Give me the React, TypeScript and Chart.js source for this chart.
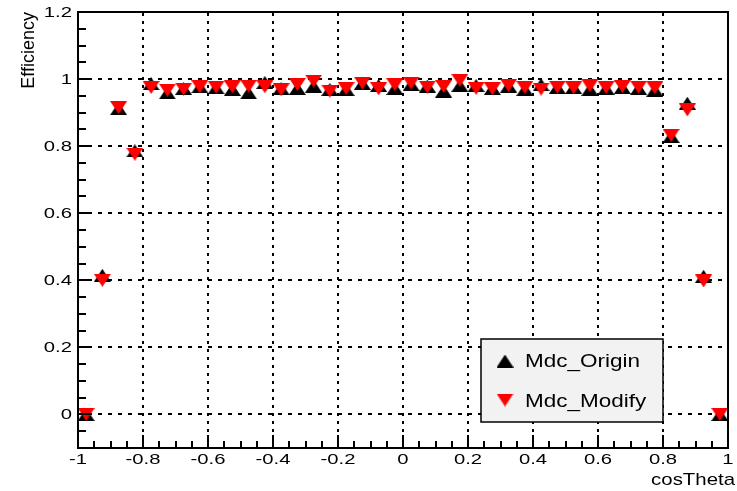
import { useEffect, useRef } from "react";
import { Chart, registerables } from "chart.js";

Chart.register(...registerables);

const W = 737;
const H = 491;

// Bin centres in cosTheta (40 bins of width 0.05)
const binCenters = [
  -0.975, -0.925, -0.875, -0.825, -0.775, -0.725, -0.675, -0.625, -0.575, -0.525,
  -0.475, -0.425, -0.375, -0.325, -0.275, -0.225, -0.175, -0.125, -0.075, -0.025,
  0.025, 0.075, 0.125, 0.175, 0.225, 0.275, 0.325, 0.375, 0.425, 0.475,
  0.525, 0.575, 0.625, 0.675, 0.725, 0.775, 0.825, 0.875, 0.925, 0.975,
];

const originEff = [
  0.0, 0.415, 0.912, 0.786, 0.986, 0.959, 0.972, 0.977, 0.974, 0.969,
  0.959, 0.99, 0.972, 0.972, 0.979, 0.969, 0.969, 0.987, 0.981, 0.972,
  0.984, 0.979, 0.964, 0.981, 0.981, 0.972, 0.979, 0.969, 0.983, 0.975,
  0.975, 0.969, 0.972, 0.975, 0.972, 0.967, 0.829, 0.928, 0.412, 0.0,
];

const modifyEff = [
  0.0, 0.4, 0.915, 0.776, 0.975, 0.967, 0.97, 0.977, 0.976, 0.977,
  0.979, 0.977, 0.968, 0.984, 0.994, 0.964, 0.972, 0.988, 0.971, 0.983,
  0.988, 0.976, 0.978, 0.996, 0.972, 0.971, 0.981, 0.975, 0.97, 0.976,
  0.974, 0.98, 0.975, 0.978, 0.976, 0.974, 0.832, 0.908, 0.398, 0.0,
];

const xTickValues = [-1, -0.8, -0.6, -0.4, -0.2, 0, 0.2, 0.4, 0.6, 0.8, 1];
const xTickLabels = ["-1", "-0.8", "-0.6", "-0.4", "-0.2", "0", "0.2", "0.4", "0.6", "0.8", "1"];
const yTickValues = [0, 0.2, 0.4, 0.6, 0.8, 1, 1.2];
const yTickLabels = ["0", "0.2", "0.4", "0.6", "0.8", "1", "1.2"];

const seriesNames = ["Mdc_Origin", "Mdc_Modify"];
const seriesColors = ["#000000", "#ff0000"];

const X_MIN = -1;
const X_MAX = 1;
const Y_MIN = -0.1;
const Y_MAX = 1.2;
const MINOR = 0.05;

const FONT = '"Liberation Sans", Arial, Helvetica, sans-serif';

function makeTriangle(color: string, up: boolean): HTMLCanvasElement {
  const c = document.createElement("canvas");
  const w = 17;
  const h = 13;
  c.width = w;
  c.height = h;
  const g = c.getContext("2d")!;
  g.fillStyle = color;
  g.beginPath();
  if (up) {
    g.moveTo(0, h);
    g.lineTo(w, h);
    g.lineTo(w / 2, 0);
  } else {
    g.moveTo(0, 0);
    g.lineTo(w, 0);
    g.lineTo(w / 2, h);
  }
  g.closePath();
  g.fill();
  return c;
}

function wideText(
  ctx: CanvasRenderingContext2D,
  text: string,
  x: number,
  y: number,
  size: number,
  sx: number,
  align: "left" | "center" | "right"
) {
  ctx.save();
  ctx.font = `${size}px ${FONT}`;
  ctx.textBaseline = "alphabetic";
  ctx.textAlign = "left";
  const w = ctx.measureText(text).width * sx;
  const left = align === "center" ? x - w / 2 : align === "right" ? x - w : x;
  ctx.translate(left, y);
  ctx.scale(sx, 1);
  ctx.fillStyle = "#000";
  ctx.fillText(text, 0, 0);
  ctx.restore();
}

export default function App() {
  const ref = useRef<HTMLCanvasElement | null>(null);

  useEffect(() => {
    const canvas = ref.current;
    if (!canvas) return;

    const upMarker = makeTriangle(seriesColors[0], true);
    const downMarker = makeTriangle(seriesColors[1], false);

    const framePlugin = {
      id: "rootFrame",
      beforeDatasetsDraw(chart: any) {
        const { ctx, chartArea: a, scales } = chart;
        const xs = scales.x;
        const ys = scales.y;
        ctx.save();
        ctx.strokeStyle = "#000";
        ctx.lineWidth = 2;
        // dotted grid, vertical
        ctx.setLineDash([3, 5]);
        xTickValues.forEach((v) => {
          if (v <= X_MIN || v >= X_MAX) return;
          const px = Math.round(xs.getPixelForValue(v));
          ctx.beginPath();
          ctx.moveTo(px, a.bottom);
          ctx.lineTo(px, a.top);
          ctx.stroke();
        });
        // dotted grid, horizontal
        ctx.setLineDash([4, 6]);
        yTickValues.forEach((v) => {
          if (v >= Y_MAX) return;
          const py = Math.round(ys.getPixelForValue(v));
          ctx.beginPath();
          ctx.moveTo(a.left, py);
          ctx.lineTo(a.right, py);
          ctx.stroke();
        });
        ctx.restore();
      },
      afterDatasetsDraw(chart: any) {
        const { ctx, chartArea: a, scales } = chart;
        const xs = scales.x;
        const ys = scales.y;
        ctx.save();
        ctx.strokeStyle = "#000";
        ctx.lineWidth = 2;
        ctx.setLineDash([]);
        ctx.strokeRect(a.left, a.top, a.right - a.left, a.bottom - a.top);

        // x ticks (inside, from the bottom)
        const nx = Math.round((X_MAX - X_MIN) / MINOR);
        for (let i = 0; i <= nx; i++) {
          const v = X_MIN + i * MINOR;
          const major = i % 4 === 0;
          const px = Math.round(xs.getPixelForValue(v));
          ctx.beginPath();
          ctx.moveTo(px, a.bottom);
          ctx.lineTo(px, a.bottom - (major ? 13 : 7));
          ctx.stroke();
        }
        // y ticks (inside, from the left)
        const ny = Math.round((Y_MAX - Y_MIN) / MINOR);
        for (let i = 0; i <= ny; i++) {
          const v = Y_MIN + i * MINOR;
          const major = Math.abs(v / 0.2 - Math.round(v / 0.2)) < 1e-6;
          const py = Math.round(ys.getPixelForValue(v));
          ctx.beginPath();
          ctx.moveTo(a.left, py);
          ctx.lineTo(a.left + (major ? 14 : 8), py);
          ctx.stroke();
        }
        ctx.restore();

        // tick labels
        xTickValues.forEach((v, i) => {
          wideText(ctx, xTickLabels[i], xs.getPixelForValue(v), 464, 15, 1.35, "center");
        });
        yTickValues.forEach((v, i) => {
          wideText(ctx, yTickLabels[i], 72, ys.getPixelForValue(v) + 5, 15, 1.35, "right");
        });

        // axis titles
        wideText(ctx, "cosTheta", 735, 485, 17, 1.2, "right");
        ctx.save();
        ctx.translate(34, 12);
        ctx.rotate(-Math.PI / 2);
        ctx.font = `18px ${FONT}`;
        ctx.textAlign = "right";
        ctx.textBaseline = "alphabetic";
        ctx.fillStyle = "#000";
        ctx.fillText("Efficiency", 0, 0);
        ctx.restore();
      },
      afterDraw(chart: any) {
        const { ctx } = chart;
        // legend box
        const bx = 481;
        const by = 339;
        const bw = 182;
        const bh = 83;
        ctx.save();
        ctx.fillStyle = "#f2f2f2";
        ctx.fillRect(bx, by, bw, bh);
        ctx.strokeStyle = "#000";
        ctx.lineWidth = 1.5;
        ctx.strokeRect(bx, by, bw, bh);
        ctx.restore();
        const markers = [upMarker, downMarker];
        const rowY = [361, 400];
        const baseY = [367, 407];
        seriesNames.forEach((name, i) => {
          const m = markers[i];
          ctx.drawImage(m, 505 - m.width / 2, rowY[i] - m.height / 2);
          wideText(ctx, name, 525, baseY[i], 18, 1.25, "left");
        });
      },
    };

    const chart = new Chart(canvas, {
      type: "scatter",
      data: {
        datasets: [
          {
            label: seriesNames[0],
            data: binCenters.map((x, i) => ({ x, y: originEff[i] })),
            pointStyle: upMarker as any,
            pointRadius: 8,
            showLine: false,
            order: 2,
          },
          {
            label: seriesNames[1],
            data: binCenters.map((x, i) => ({ x, y: modifyEff[i] })),
            pointStyle: downMarker as any,
            pointRadius: 8,
            showLine: false,
            order: 1,
          },
        ],
      },
      options: {
        responsive: false,
        animation: false,
        devicePixelRatio: 1,
        events: [],
        layout: { padding: { left: 78, right: 1, top: 12, bottom: 43 } },
        scales: {
          x: { type: "linear", min: X_MIN, max: X_MAX, display: false },
          y: { type: "linear", min: Y_MIN, max: Y_MAX, display: false },
        },
        plugins: {
          legend: { display: false },
          tooltip: { enabled: false },
        },
      },
      plugins: [framePlugin],
    });

    return () => chart.destroy();
  }, []);

  return (
    <div style={{ position: "absolute", left: 0, top: 0, width: W, height: H, background: "#fff" }}>
      <canvas ref={ref} width={W} height={H} style={{ display: "block", width: W, height: H }} />
    </div>
  );
}
